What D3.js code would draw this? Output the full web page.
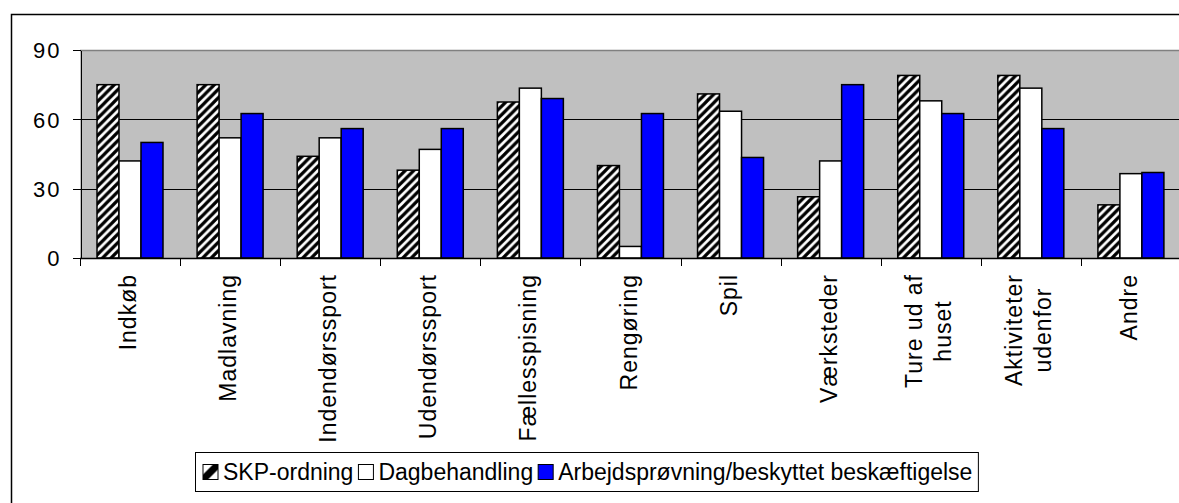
<!DOCTYPE html>
<meta charset="utf-8">
<html>
<head>
<style>
  body { margin: 0; background: #fff; }
  text { font-family: "Liberation Sans", Arial, sans-serif; fill: #000; }
  .axis path, .axis line { stroke: #000; shape-rendering: crispEdges; }
</style>
<script src="https://d3js.org/d3.v7.min.js"></script>
</head>
<body>
<div id="chart"></div>
<script>
// Categories and series values (percent)
var categories = ["Indkøb", "Madlavning", "Indendørssport", "Udendørssport", "Fællesspisning",
  "Rengøring", "Spil", "Værksteder", "Ture ud af\nhuset", "Aktiviteter\nudenfor", "Andre"];
var seriesNames = ["SKP-ordning", "Dagbehandling", "Arbejdsprøvning/beskyttet beskæftigelse"];
var skp = [75, 75, 44, 38, 67.5, 40, 71, 26.5, 79, 79, 23];
var dag = [42, 52, 52, 47, 73.5, 5, 63.5, 42, 68, 73.5, 36.5];
var arb = [50, 62.5, 56, 56, 69, 62.5, 43.5, 75, 62.5, 56, 37];
var yTicks = [0, 30, 60, 90];

var W = 1179, H = 503;
var plot = { left: 80, right: 1181, top: 50, bottom: 258 };
var fills = ["url(#hatch)", "#ffffff", "#0000ff"];
var series = [skp, dag, arb];

var svg = d3.select("#chart").append("svg")
  .attr("width", W).attr("height", H);

var defs = svg.append("defs");
var s = 8.5;
var pat = defs.append("pattern").attr("id", "hatch")
  .attr("patternUnits", "userSpaceOnUse")
  .attr("width", s).attr("height", s);
pat.append("rect").attr("width", s).attr("height", s).attr("fill", "#fff");
pat.append("path")
  .attr("d", "M0," + s + "L" + s + ",0M" + (-s/2) + "," + (s/2) + "L" + (s/2) + "," + (-s/2) +
    "M" + (s/2) + "," + (s*1.5) + "L" + (s*1.5) + "," + (s/2))
  .attr("stroke", "#000").attr("stroke-width", 3.2);

var lpat = defs.append("pattern").attr("id", "hatchSmall")
  .attr("patternUnits", "objectBoundingBox")
  .attr("width", 1).attr("height", 1);
lpat.append("rect").attr("width", 15).attr("height", 15).attr("fill", "#fff");
lpat.append("path").attr("d", "M0,15L0,10L10,0L15,0L15,5L5,15Z").attr("fill", "#000");

// Outer frame
svg.append("rect")
  .attr("x", 11.5).attr("y", 14.5).attr("width", 1300).attr("height", 700)
  .attr("fill", "#fff").attr("stroke", "#000").attr("stroke-width", 1.5);

var x0 = d3.scaleBand().domain(categories).range([plot.left, plot.right]).padding(0);
var x1 = d3.scaleBand().domain([0, 1, 2]).range([17, 83]);
var y = d3.scaleLinear().domain([0, 90]).range([plot.bottom, plot.top]);

// Plot area
svg.append("rect")
  .attr("x", plot.left).attr("y", plot.top)
  .attr("width", plot.right - plot.left).attr("height", plot.bottom - plot.top)
  .attr("fill", "#c0c0c0");
svg.append("line")
  .attr("x1", plot.left).attr("x2", plot.right)
  .attr("y1", plot.top + 0.5).attr("y2", plot.top + 0.5)
  .attr("stroke", "#808080").attr("stroke-width", 1.5);

svg.selectAll(".grid").data([30, 60]).enter().append("line")
  .attr("class", "grid")
  .attr("x1", plot.left).attr("x2", plot.right)
  .attr("y1", function(d) { return Math.round(y(d)) + 0.5; })
  .attr("y2", function(d) { return Math.round(y(d)) + 0.5; })
  .attr("stroke", "#000").attr("stroke-width", 1);

// Bars
var groups = svg.selectAll(".cat").data(categories).enter().append("g")
  .attr("class", "cat")
  .attr("transform", function(d) { return "translate(" + x0(d) + ",0)"; });

groups.selectAll("rect").data(function(d, i) {
    return series.map(function(v, k) { return { k: k, v: v[i] }; });
  })
  .enter().append("rect")
  .attr("x", function(d) { return x1(d.k); })
  .attr("y", function(d) { return y(d.v); })
  .attr("width", x1.bandwidth())
  .attr("height", function(d) { return y(0) - y(d.v); })
  .attr("fill", function(d) { return fills[d.k]; })
  .attr("stroke", "#000").attr("stroke-width", 1.5);

// Y axis
var yAxis = svg.append("g").attr("class", "axis")
  .attr("transform", "translate(" + (plot.left + 0.5) + ",0)")
  .call(d3.axisLeft(y).tickValues(yTicks).tickSize(8).tickSizeOuter(0).tickPadding(11));
yAxis.selectAll("text").style("font-size", "22px").attr("letter-spacing", "2px")
  .attr("dy", "0.36em");

// X axis line and ticks at category boundaries
svg.append("line")
  .attr("x1", plot.left).attr("x2", plot.right)
  .attr("y1", plot.bottom + 0.5).attr("y2", plot.bottom + 0.5)
  .attr("stroke", "#000").attr("stroke-width", 1.5);
var bounds = categories.map(function(c) { return x0(c); }).concat([plot.right]);
svg.selectAll(".xtick").data(bounds).enter().append("line")
  .attr("class", "xtick")
  .attr("x1", function(d) { return Math.round(d) + 0.5; })
  .attr("x2", function(d) { return Math.round(d) + 0.5; })
  .attr("y1", plot.bottom).attr("y2", plot.bottom + 8)
  .attr("stroke", "#000").attr("stroke-width", 1);

// Category labels, rotated
var lineGap = 29;
svg.selectAll(".xlabel").data(categories).enter().append("g")
  .attr("class", "xlabel")
  .each(function(d) {
    var lines = d.split("\n");
    var cx = x0(d) + x0.bandwidth() / 2;
    var g = d3.select(this);
    var maxLen = 0;
    var texts = lines.map(function(l, j) {
      var t = g.append("text")
        .attr("transform", "translate(" + (cx + (j - (lines.length - 1) / 2) * lineGap + 6) + ",274) rotate(-90)")
        .style("font-size", "23px").attr("letter-spacing", "1px")
        .text(l);
      maxLen = Math.max(maxLen, t.node().getComputedTextLength());
      return t;
    });
    texts.forEach(function(t) {
      t.attr("text-anchor", "middle").attr("x", -(maxLen / 2));
    });
  });

// Legend
var leg = svg.append("g");
var legBox = leg.append("rect")
  .attr("x", 195.5).attr("y", 452.5).attr("height", 39)
  .attr("fill", "#fff").attr("stroke", "#000").attr("stroke-width", 1);
var lx = 203;
seriesNames.forEach(function(name, k) {
  leg.append("rect")
    .attr("x", lx).attr("y", 464.5).attr("width", 15).attr("height", 15)
    .attr("fill", k === 0 ? "url(#hatchSmall)" : fills[k])
    .attr("stroke", "#000").attr("stroke-width", 1);
  var t = leg.append("text")
    .attr("x", lx + 20).attr("y", 480)
    .style("font-size", "23px")
    .text(name);
  lx += 20 + t.node().getComputedTextLength() + 5;
});
legBox.attr("width", lx - 195.5 + 1);
</script>
</body>
</html>
